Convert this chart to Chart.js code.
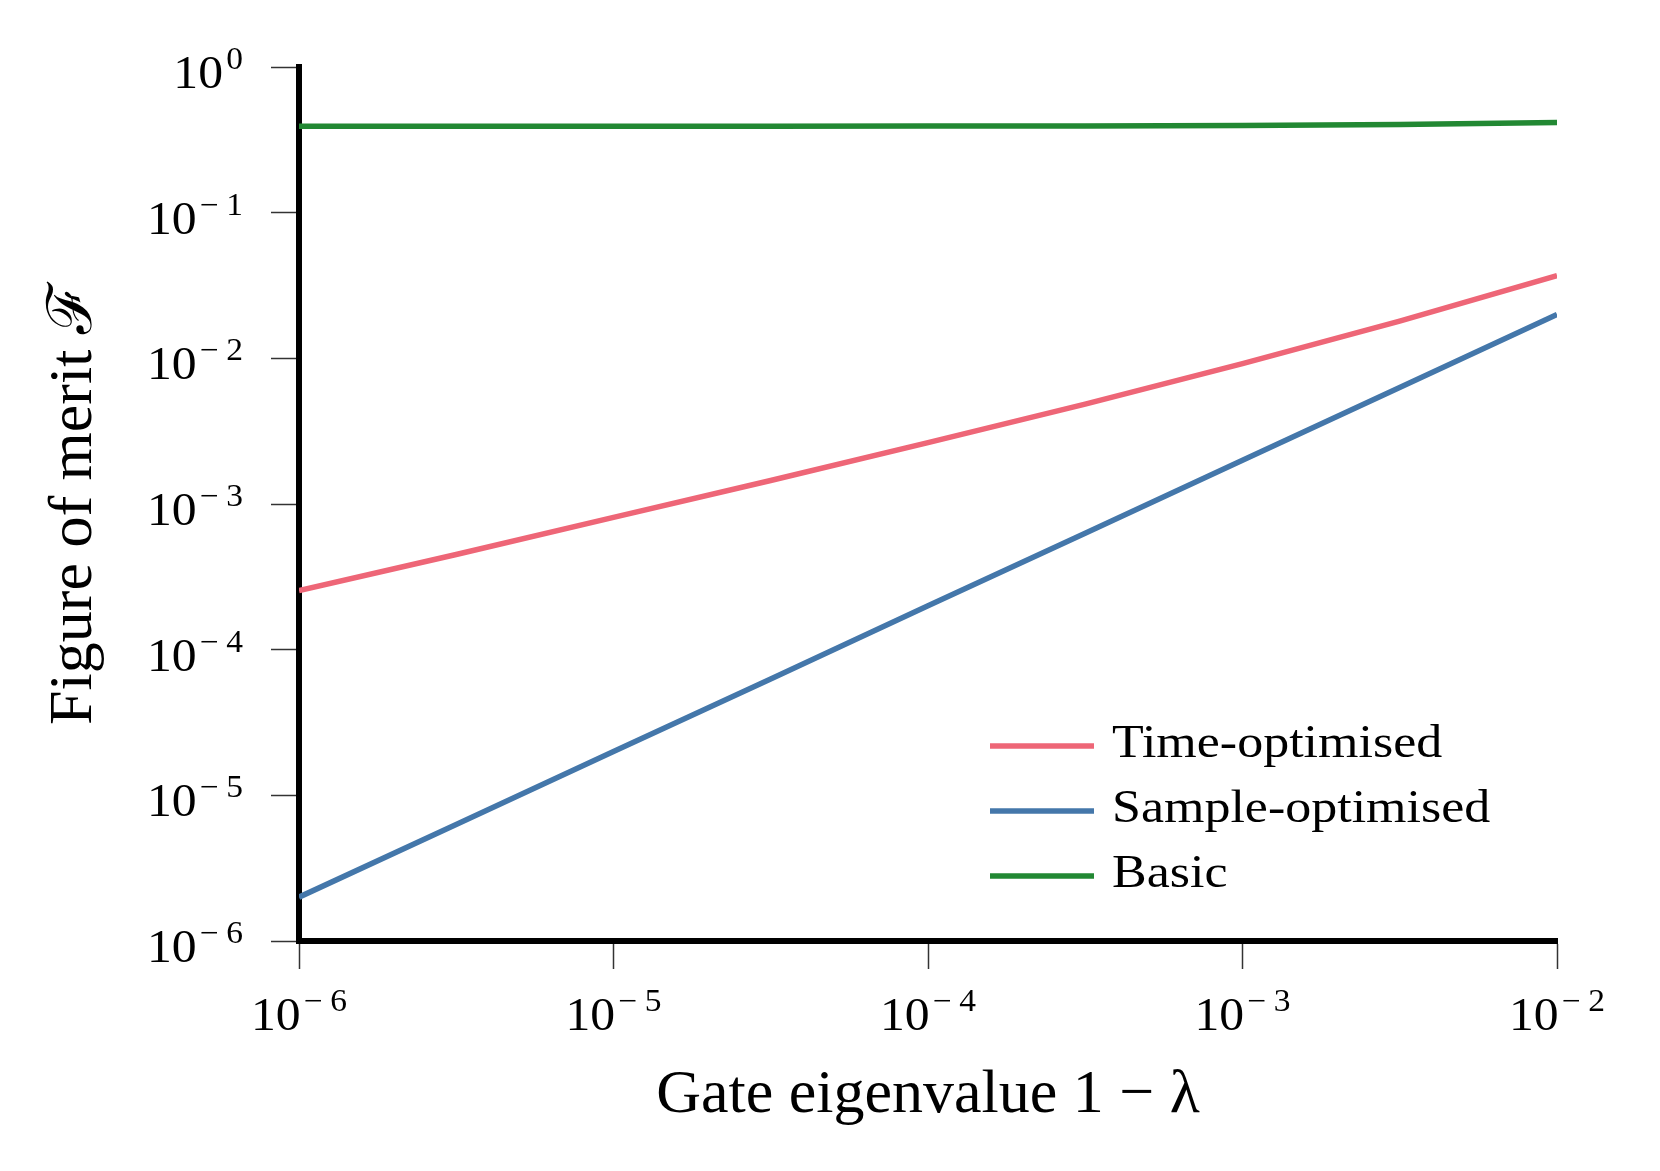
<!DOCTYPE html>
<html>
<head>
<meta charset="utf-8">
<script src="https://cdn.jsdelivr.net/npm/chart.js@4.4.0/dist/chart.umd.min.js"></script>
<style>
  html, body { margin: 0; padding: 0; background: #ffffff; }
  #wrap { width: 1660px; height: 1171px; position: relative; }
</style>
</head>
<body>
<div id="wrap"><canvas id="c"></canvas></div>
<script>
// ---- data ----
const gateEigenvalues = [1e-6, 3.16e-6, 1e-5, 3.16e-5, 1e-4, 3.16e-4, 1e-3, 3.16e-3, 1e-2];
const timeOptimised   = [2.55e-4, 4.5e-4, 8.1e-4, 1.45e-3, 2.64e-3, 4.85e-3, 9.2e-3, 1.8e-2, 3.7e-2];
const sampleOptimised = [2e-6, 6.3e-6, 2e-5, 6.3e-5, 2e-4, 6.3e-4, 2e-3, 6.3e-3, 2e-2];
const basic           = [0.392, 0.392, 0.392, 0.392, 0.393, 0.394, 0.397, 0.403, 0.416];
const seriesLabels = ['Time-optimised', 'Sample-optimised', 'Basic'];
const xTickValues = [1e-6, 1e-5, 1e-4, 1e-3, 1e-2];
const yTickValues = [1e-6, 1e-5, 1e-4, 1e-3, 1e-2, 1e-1, 1];
const xTitle = 'Gate eigenvalue 1 \u2212 \u03BB';
const yTitle = 'Figure of merit \u2131';

const SERIF = "'Liberation Serif', 'DejaVu Serif', serif";
const colors = ['#EE6677', '#4477AA', '#228833'];

function pts(ys) { return gateEigenvalues.map((x, i) => ({ x: x, y: ys[i] })); }

// draws "10^exp" with (x, y) anchor; y = baseline of base "10"
function drawPower(ctx, x, y, exp, align, baseSize, expSize) {
  const sx = 1.08;
  const gapMinus = 7, gap = 3;
  ctx.font = baseSize + 'px ' + SERIF;
  const wb = ctx.measureText('10').width;
  ctx.font = expSize + 'px ' + SERIF;
  const digits = String(Math.abs(exp));
  let we = ctx.measureText(digits).width;
  if (exp < 0) we += ctx.measureText('\u2212').width + gapMinus;
  const total = (wb + gap + we) * sx;
  const left = align === 'right' ? x - total : x - total / 2;
  ctx.save();
  ctx.translate(left, y);
  ctx.scale(sx, 1);
  ctx.textAlign = 'left';
  ctx.textBaseline = 'alphabetic';
  ctx.fillStyle = '#000';
  ctx.font = baseSize + 'px ' + SERIF;
  ctx.fillText('10', 0, 0);
  ctx.font = expSize + 'px ' + SERIF;
  let ex = wb + gap;
  const ey = -19;
  if (exp < 0) {
    ctx.fillText('\u2212', ex, ey);
    ex += ctx.measureText('\u2212').width + gapMinus;
  }
  ctx.fillText(digits, ex, ey);
  ctx.restore();
}

const tickLabelPlugin = {
  id: 'tickLabels',
  afterDraw(chart) {
    const ctx = chart.ctx;
    const xs = chart.scales.x, ys = chart.scales.y;
    xs.ticks.forEach(t => {
      const px = xs.getPixelForValue(t.value);
      drawPower(ctx, px, xs.top + 89, Math.round(Math.log10(t.value)), 'center', 46, 31);
    });
    ys.ticks.forEach(t => {
      const py = ys.getPixelForValue(t.value);
      drawPower(ctx, 243, py + 21, Math.round(Math.log10(t.value)), 'right', 46, 31);
    });
  }
};

const legendPlugin = {
  id: 'innerLegend',
  afterDraw(chart) {
    const ctx = chart.ctx;
    const x0 = 990, x1 = 1094, tx = 1112, y0 = 746, dy = 65, sx = 1.13;
    chart.data.datasets.forEach((ds, i) => {
      const y = y0 + i * dy;
      ctx.save();
      ctx.strokeStyle = ds.borderColor;
      ctx.lineWidth = 5.5;
      ctx.lineCap = 'butt';
      ctx.beginPath();
      ctx.moveTo(x0, y);
      ctx.lineTo(x1, y);
      ctx.stroke();
      ctx.translate(tx, y + 11);
      ctx.scale(sx, 1);
      ctx.fillStyle = '#000';
      ctx.font = '46px ' + SERIF;
      ctx.textAlign = 'left';
      ctx.textBaseline = 'alphabetic';
      ctx.fillText(ds.label, 0, 0);
      ctx.restore();
    });
  }
};

const commonGrid = {
  display: true,
  drawOnChartArea: false,
  drawTicks: true,
  tickLength: 28,
  tickWidth: 1.5,
  tickColor: '#333'
};

new Chart(document.getElementById('c'), {
  type: 'line',
  data: {
    datasets: [
      { label: seriesLabels[0], data: pts(timeOptimised), borderColor: colors[0] },
      { label: seriesLabels[1], data: pts(sampleOptimised), borderColor: colors[1] },
      { label: seriesLabels[2], data: pts(basic), borderColor: colors[2] }
    ].map(d => Object.assign(d, { borderWidth: 5.5, pointRadius: 0, tension: 0, fill: false, backgroundColor: d.borderColor }))
  },
  options: {
    responsive: true,
    maintainAspectRatio: false,
    animation: false,
    layout: { padding: { top: 67, right: 103, left: 0, bottom: 0 } },
    plugins: { legend: { display: false }, tooltip: { enabled: false }, title: { display: false } },
    scales: {
      x: {
        type: 'logarithmic',
        min: 1e-6, max: 1e-2,
        z: 1,
        afterBuildTicks: s => { s.ticks = xTickValues.map(v => ({ value: v })); },
        afterFit: s => { s.height = 230; },
        ticks: { display: false },
        grid: commonGrid,
        border: { display: true, width: 6, color: '#000' },
        title: { display: true, text: xTitle, color: '#000', font: { family: SERIF, size: 62 }, padding: 38 }
      },
      y: {
        type: 'logarithmic',
        min: 1e-6, max: 1,
        z: 1,
        afterBuildTicks: s => { s.ticks = yTickValues.map(v => ({ value: v })); },
        afterFit: s => { s.width = 299; },
        ticks: { display: false },
        grid: commonGrid,
        border: { display: true, width: 6, color: '#000' },
        title: { display: true, text: yTitle, color: '#000', font: { family: SERIF, size: 62 }, padding: 38 }
      }
    }
  },
  plugins: [tickLabelPlugin, legendPlugin]
});
</script>
</body>
</html>
